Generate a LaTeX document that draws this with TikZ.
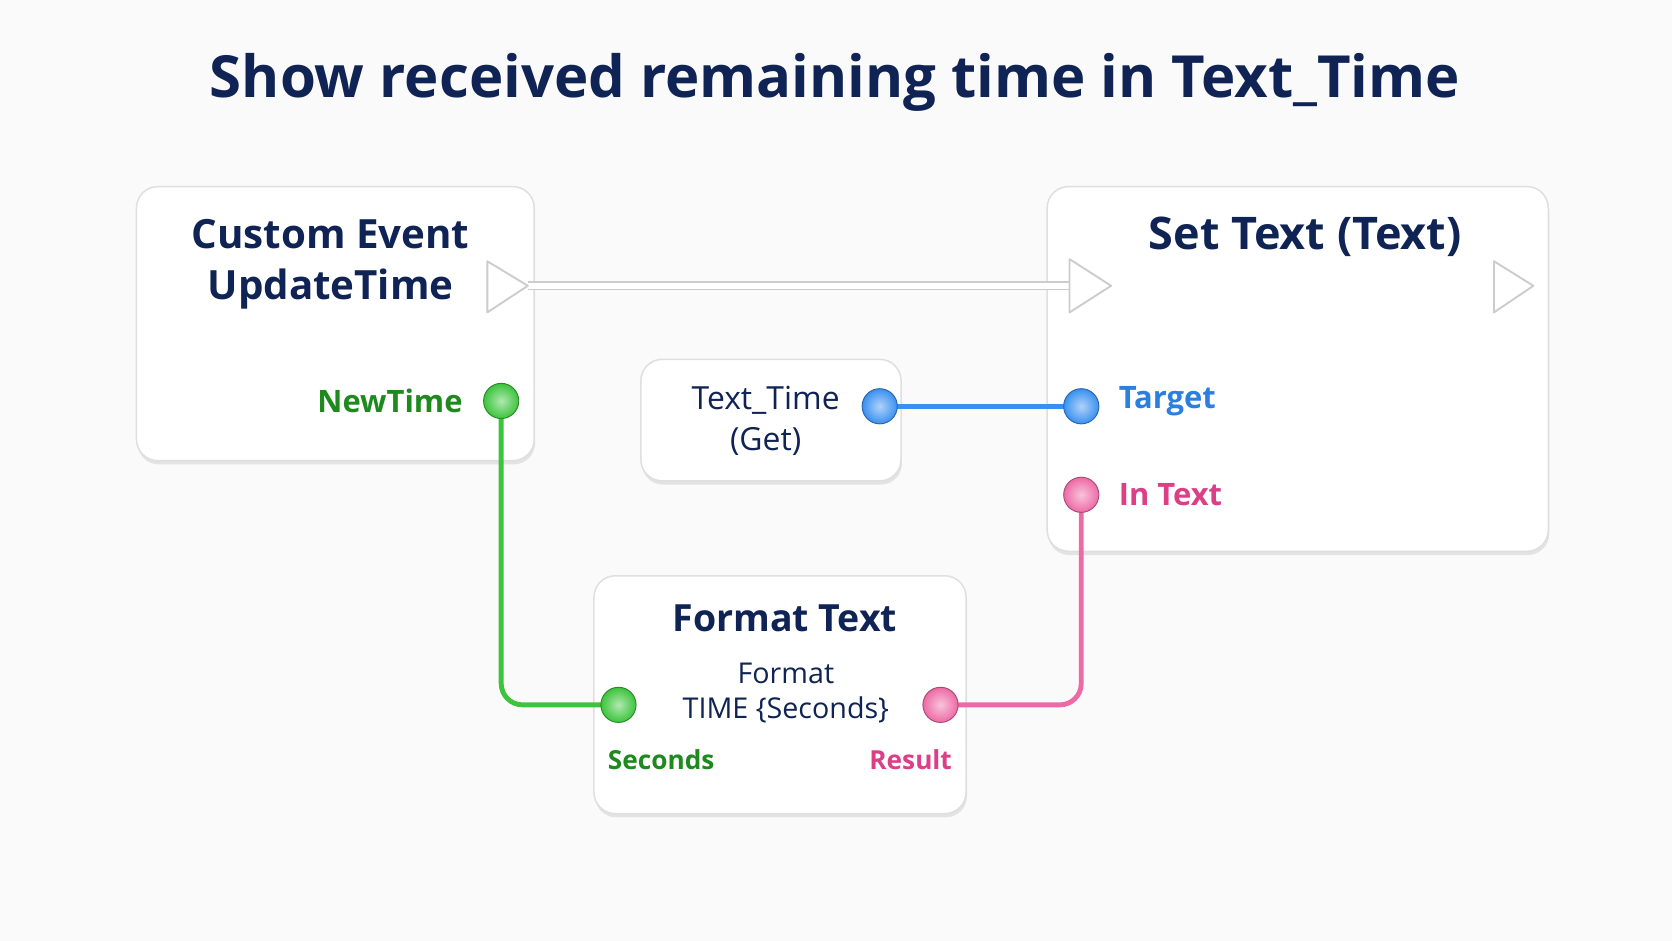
\documentclass[tikz,border=0pt]{standalone}
\usepackage{fontspec}
\setmainfont{Open Sans}
\usetikzlibrary{shadows}
\definecolor{navy}{HTML}{0F2354}
\definecolor{pgreen}{HTML}{3CC43C}
\definecolor{tgreen}{HTML}{1E8A1E}
\definecolor{pblue}{HTML}{3A90F0}
\definecolor{tblue}{HTML}{2A7FE0}
\definecolor{ppink}{HTML}{EE6AA6}
\definecolor{tpink}{HTML}{DB3F86}
\begin{document}
\begin{tikzpicture}[x=0.02cm,y=-0.02cm,
  box/.style={draw=gray!25,fill=white,rounded corners=0.4cm,line width=0.8pt,drop shadow={shadow xshift=0.5pt,shadow yshift=-2pt,opacity=0.18}},
  big/.style={text=navy,align=center},
  pin/.style={circle,minimum size=0.66cm,inner sep=0pt,draw=#1!70!black,line width=0.5pt,inner color=#1!40!white,outer color=#1},
  exec/.style={draw=gray!40,fill=white,line width=1pt,line join=round},
  wire/.style={line width=2.6pt,rounded corners=0.4cm}]
\fill[gray!4] (0,0) rectangle (1568,882);
\useasboundingbox (0,0) rectangle (1568,882);
\node[text=navy,font=\fontsize{31}{36}\selectfont\bfseries] (title) at (783,77) {Show received remaining time in Text\_Time};
% boxes
\draw[box] (128,175) rectangle (501,432);
\draw[box] (982,175) rectangle (1452,517);
\draw[box] (601,337) rectangle (845,451);
\draw[box] (557,540) rectangle (906,763);
\node[big,font=\fontsize{21.5}{27}\selectfont\bfseries] (ce) at (310,248) {Custom Event\\UpdateTime};
\node[big,font=\fontsize{24}{28}\selectfont\bfseries] (st) at (1224,222) {Set Text (Text)};
\node[text=navy,align=center,font=\fontsize{17}{22}\selectfont] (tt) at (718,395) {Text\_Time\\(Get)};
\node[big,font=\fontsize{20}{24}\selectfont\bfseries] (ft) at (736,580) {Format Text};
\node[text=navy,align=center,font=\fontsize{15.3}{19}\selectfont] (fmt) at (737,650) {Format\\TIME \{Seconds\}};
% exec
\coordinate (eo1) at (495,268);
\coordinate (ei2) at (1003,268);
\draw[draw=gray!40,line width=5pt] (eo1) -- (ei2);
\draw[draw=white,line width=3pt] (eo1) -- (ei2);
\draw[exec] (457,245) -- (495,268) -- (457,293) -- cycle;
\draw[exec] (1003,243) -- (1042,268) -- (1003,293) -- cycle;
\draw[exec] (1401,245) -- (1438,268) -- (1401,293) -- cycle;
% pin positions
\coordinate (nt) at (470,376);
\coordinate (tg) at (1014,378);
\coordinate (it) at (1014,464);
\coordinate (tto) at (825,381);
\coordinate (sec) at (580,661);
\coordinate (res) at (882,661);
% wires
\draw[wire,pblue] (tto) -- (tto -| tg);
\draw[wire,pgreen] (nt) |- (sec);
\draw[wire,ppink] (res) -| (it);
% pins
\node[pin=pgreen] (pnt) at (nt) {};
\node[pin=pblue] (ptg) at (tto -| tg) {};
\node[pin=ppink] (pit) at (it) {};
\node[pin=pblue] (ptto) at (tto) {};
\node[pin=pgreen] (psec) at (sec) {};
\node[pin=ppink] (pres) at (res) {};
% labels
\node[anchor=east,text=tgreen,font=\fontsize{16.5}{20}\selectfont\bfseries] (l1) at (440,376) {NewTime};
\node[anchor=west,text=tblue,font=\fontsize{16.5}{20}\selectfont\bfseries] (l2) at (1043,376) {Target};
\node[anchor=west,text=tpink,font=\fontsize{16.5}{20}\selectfont\bfseries] (l3) at (1043,464) {In Text};
\node[text=tgreen,font=\fontsize{14}{17}\selectfont\bfseries] (l4) at (620,712) {Seconds};
\node[text=tpink,font=\fontsize{14}{17}\selectfont\bfseries] (l5) at (854,712) {Result};
\end{tikzpicture}
\end{document}
